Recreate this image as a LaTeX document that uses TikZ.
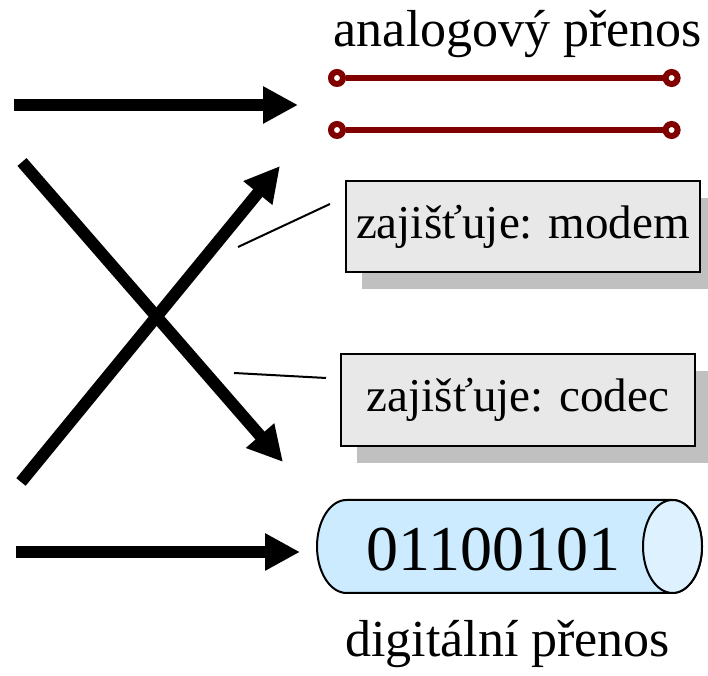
\documentclass[tikz,border=0pt]{standalone}
\usepackage{fontspec}
\setmainfont{Liberation Serif}
\usetikzlibrary{arrows.meta,shadows}
\definecolor{tmavecervena}{HTML}{800000}
\definecolor{seda}{HTML}{E8E8E8}
\definecolor{stin}{HTML}{C0C0C0}
\definecolor{modra}{HTML}{CCEBFF}
\definecolor{svetlemodra}{HTML}{DDF1FF}
\begin{document}
\begin{tikzpicture}[
        sipka/.style={line width=0.3cm, -{Triangle[length=0.875cm,width=0.875cm]}},
        kolecko/.style={circle, draw=tmavecervena, fill=white, line width=0.15cm,
            minimum size=0.3cm, inner sep=0pt},
        vedeni/.style={draw=tmavecervena, line width=0.15cm},
        popis/.style={font=\fontsize{37}{41}\selectfont},
        ramecek/.style={draw, fill=seda, line width=0.05cm, minimum width=8.85cm,
            minimum height=2.3cm, inner sep=0pt, font=\fontsize{33.5}{38}\selectfont,
            drop shadow={shadow xshift=0.4cm, shadow yshift=-0.425cm, fill=stin, opacity=1}},
        odkaz/.style={line width=0.05cm}
    ]
        \useasboundingbox (0,0) rectangle (17.7,16.9);

        % ~~~~ Analogový přenos ~~~~ %
        \node[popis, anchor=base] (analog) at (12.95,15.725) {analogový přenos};
        \node[kolecko] (a1) at (8.425,14.95) {};
        \node[kolecko] (a2) at (16.79,14.95) {};
        \node[kolecko] (b1) at (8.425,13.65) {};
        \node[kolecko] (b2) at (16.79,13.65) {};
        \draw[vedeni] (a1) -- (a2);
        \draw[vedeni] (b1) -- (b2);

        % ~~~~ Šipky ~~~~ %
        \coordinate (z1) at (0.35,14.275);
        \coordinate (k1) at (7.45,14.275);
        \coordinate (z2) at (0.4,3.1);
        \coordinate (k2) at (7.5,3.1);
        \coordinate (z3) at (0.55,12.85);
        \coordinate (k3) at (7.075,5.35);
        \coordinate (z4) at (0.525,4.85);
        \coordinate (k4) at (7.0,12.75);
        \draw[sipka] (z1) -- (k1);
        \draw[sipka] (z2) -- (k2);
        \draw[sipka] (z3) -- (k3);
        \draw[sipka] (z4) -- (k4);

        % ~~~~ Zařízení ~~~~ %
        \node[ramecek, minimum height=2.275cm] (modem) at (13.075,11.2375) {zajišťuje: modem};
        \node[ramecek] (codec) at (12.95,6.9) {zajišťuje: codec};
        \coordinate (m1) at (5.95,10.725);
        \coordinate (m2) at (8.25,11.8);
        \coordinate (c1) at (5.85,7.575);
        \coordinate (c2) at (8.15,7.45);
        \draw[odkaz] (m1) -- (m2);
        \draw[odkaz] (c1) -- (c2);

        % ~~~~ Digitální přenos ~~~~ %
        \draw[fill=modra, line width=0.05cm] (8.6625,4.4) -- (16.8125,4.4)
            arc[start angle=90, end angle=-90, x radius=0.7375, y radius=1.1625]
            -- (8.6625,2.075)
            arc[start angle=270, end angle=90, x radius=0.7375, y radius=1.1625] -- cycle;
        \draw[fill=svetlemodra, line width=0.05cm] (16.8125,3.2375)
            ellipse[x radius=0.7375, y radius=1.1625];
        \node[font=\fontsize{45.5}{50}\selectfont, anchor=base] (bity) at (12.3375,2.625) {01100101};
        \node[popis, anchor=base] (digital) at (12.69,0.475) {digitální přenos};
    \end{tikzpicture}
\end{document}
